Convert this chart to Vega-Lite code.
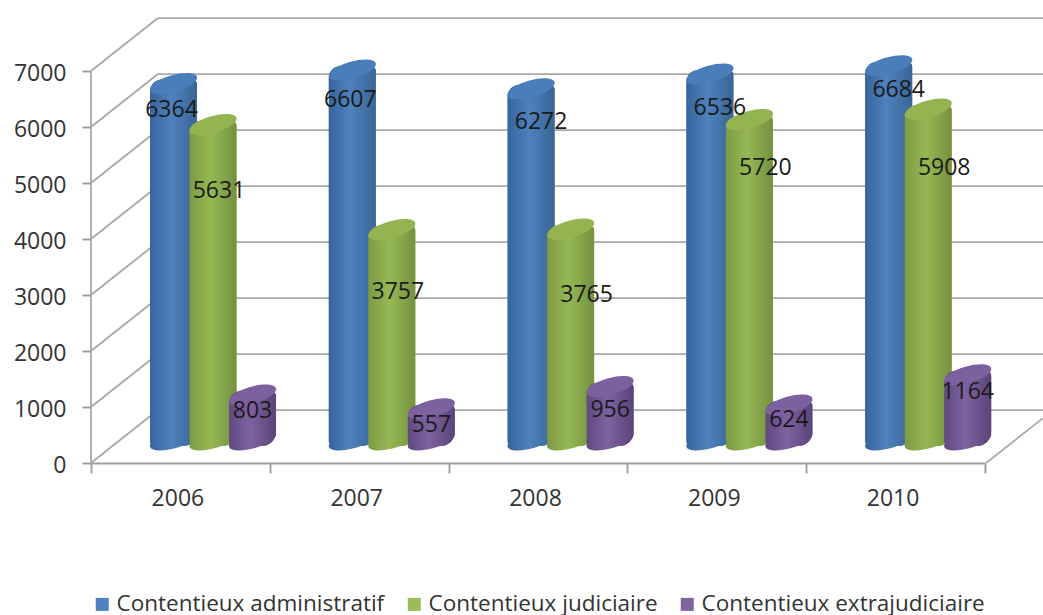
{
"$schema":"https://vega.github.io/schema/vega-lite/v6.json",
"width":952,"height":463,
"autosize":{"type":"none"},
"padding":{"left":91,"top":0,"right":0,"bottom":152},
"background":"white",
"config":{"view":{"stroke":null},"font":"Open Sans"},
"datasets":{
"bars":[
{"year":"2006","series":"Contentieux administratif","value":6364,"labelLevel":6304},
{"year":"2006","series":"Contentieux judiciaire","value":5631,"labelLevel":4857},
{"year":"2006","series":"Contentieux extrajudiciaire","value":803,"labelLevel":929},
{"year":"2007","series":"Contentieux administratif","value":6607,"labelLevel":6482},
{"year":"2007","series":"Contentieux judiciaire","value":3757,"labelLevel":3054},
{"year":"2007","series":"Contentieux extrajudiciaire","value":557,"labelLevel":679},
{"year":"2008","series":"Contentieux administratif","value":6272,"labelLevel":6089},
{"year":"2008","series":"Contentieux judiciaire","value":3765,"labelLevel":3000},
{"year":"2008","series":"Contentieux extrajudiciaire","value":956,"labelLevel":946},
{"year":"2009","series":"Contentieux administratif","value":6536,"labelLevel":6339},
{"year":"2009","series":"Contentieux judiciaire","value":5720,"labelLevel":5268},
{"year":"2009","series":"Contentieux extrajudiciaire","value":624,"labelLevel":768},
{"year":"2010","series":"Contentieux administratif","value":6684,"labelLevel":6661},
{"year":"2010","series":"Contentieux judiciaire","value":5908,"labelLevel":5268},
{"year":"2010","series":"Contentieux extrajudiciaire","value":1164,"labelLevel":1268}
],
"frame":[
{"line":"a","depth":0,"level":0},{"line":"a","depth":0,"level":7000},
{"line":"s0","depth":0,"level":0},{"line":"s0","depth":0.374,"level":946},
{"line":"s1","depth":0,"level":1000},{"line":"s1","depth":0.374,"level":1946},
{"line":"s2","depth":0,"level":2000},{"line":"s2","depth":0.374,"level":2946},
{"line":"s3","depth":0,"level":3000},{"line":"s3","depth":0.374,"level":3946},
{"line":"s4","depth":0,"level":4000},{"line":"s4","depth":0.374,"level":4946},
{"line":"s5","depth":0,"level":5000},{"line":"s5","depth":0.374,"level":5946},
{"line":"s6","depth":0,"level":6000},{"line":"s6","depth":0.374,"level":6946},
{"line":"s7","depth":0,"level":7000},{"line":"s7","depth":0.374,"level":7946},
{"line":"b0","depth":0.374,"level":946},{"line":"b0","depth":5.318,"level":946},
{"line":"b1","depth":0.374,"level":1946},{"line":"b1","depth":5.318,"level":1946},
{"line":"b2","depth":0.374,"level":2946},{"line":"b2","depth":5.318,"level":2946},
{"line":"b3","depth":0.374,"level":3946},{"line":"b3","depth":5.318,"level":3946},
{"line":"b4","depth":0.374,"level":4946},{"line":"b4","depth":5.318,"level":4946},
{"line":"b5","depth":0.374,"level":5946},{"line":"b5","depth":5.318,"level":5946},
{"line":"b6","depth":0.374,"level":6946},{"line":"b6","depth":5.318,"level":6946},
{"line":"b7","depth":0.374,"level":7946},{"line":"b7","depth":5.318,"level":7946},
{"line":"r","depth":5,"level":0},{"line":"r","depth":5.318,"level":800}
]
},
"resolve":{"scale":{"x":"independent"},"axis":{"x":"independent"}},
"layer":[
{"data":{"name":"frame"},
 "mark":{"type":"line","stroke":"#a8a8a8","strokeWidth":1.8,"clip":false},
 "encoding":{
  "x":{"field":"depth","type":"quantitative","scale":{"domain":[0,5.318],"nice":false,"zero":false},"axis":null},
  "y":{"field":"level","type":"quantitative","scale":{"domain":[0,8268],"nice":false},
   "axis":{"title":null,"values":[0,1000,2000,3000,4000,5000,6000,7000],"format":"d","grid":false,"domain":false,"tickColor":"#a0a0a0","tickWidth":2,"tickSize":9,"labelPadding":16,"labelOffset":2,"labelFontSize":23,"labelColor":"#333333","labelFont":"Open Sans"}},
  "detail":{"field":"line"}
 }},
{"data":{"name":"bars"},
 "encoding":{
  "x":{"field":"year","type":"nominal","scale":{"range":[0,894],"paddingInner":0,"paddingOuter":0},
   "axis":{"title":null,"labelAngle":0,"tickBand":"extent","domainColor":"#a0a0a0","domainWidth":2,"tickColor":"#a0a0a0","tickWidth":2,"tickSize":10,"labelPadding":14,"labelOffset":-3,"labelFontSize":23,"labelColor":"#333333","labelFont":"Open Sans"}},
  "xOffset":{"field":"series","type":"nominal","scale":{"domain":["Contentieux administratif","Contentieux judiciaire","Contentieux extrajudiciaire"],"range":[62.75,181.25],"paddingInner":0,"paddingOuter":0}}
 },
 "layer":[
 {"mark":{"type":"bar","width":47,"yOffset":-27,"y2Offset":-17,"cornerRadiusTopLeft":12,"cornerRadiusTopRight":5,"cornerRadiusBottomRight":14,"cornerRadiusBottomLeft":5},
  "encoding":{"y":{"field":"value","type":"quantitative"},"y2":{"datum":0},
   "color":{"field":"series","type":"nominal","scale":{"domain":["Contentieux administratif","Contentieux judiciaire","Contentieux extrajudiciaire"],"range":["#4f81bd","#9bbb59","#8064a2"]},
    "legend":{"title":null,"orient":"none","legendX":0,"legendY":593,"direction":"horizontal","columns":3,"symbolType":"square","symbolSize":169,"symbolStrokeWidth":0,"labelFontSize":22.5,"labelLimit":400,"labelColor":"#333333","labelFont":"Open Sans","columnPadding":18,"labelOffset":3}}}},
 {"transform":[{"filter":"datum.series=='Contentieux administratif'"}],
  "layer":[
  {"mark":{"type":"point","filled":true,"opacity":1,"yOffset":-23,"size":2209,"shape":"M-1,0.29A1.04,0.36,-16,1,1,1,-0.29A1.04,0.36,-16,1,1,-1,0.29Z","fill":{"gradient":"linear","x1":0,"x2":1,"y1":0,"y2":0,"stops":[{"offset":0,"color":"#37649c"},{"offset":0.45,"color":"#4f81bd"},{"offset":1,"color":"#3a6595"}]}},
   "encoding":{"y":{"datum":0,"type":"quantitative"}}},
  {"mark":{"type":"bar","width":47,"yOffset":-27,"y2Offset":-17,"cornerRadiusTopLeft":12,"cornerRadiusTopRight":5,"cornerRadiusBottomRight":14,"cornerRadiusBottomLeft":5,"fill":{"gradient":"linear","x1":0,"x2":1,"y1":0,"y2":0,"stops":[{"offset":0,"color":"#37649c"},{"offset":0.45,"color":"#4f81bd"},{"offset":1,"color":"#3a6595"}]}},
   "encoding":{"y":{"field":"value","type":"quantitative"},"y2":{"datum":0}}},
  {"mark":{"type":"point","filled":true,"opacity":1,"yOffset":-23,"size":2209,"fill":"#4a7ebb","shape":"M-1,0.29A1.04,0.36,-16,1,1,1,-0.29A1.04,0.36,-16,1,1,-1,0.29Z"},
   "encoding":{"y":{"field":"value","type":"quantitative"}}}
  ]},
 {"transform":[{"filter":"datum.series=='Contentieux judiciaire'"}],
  "layer":[
  {"mark":{"type":"point","filled":true,"opacity":1,"yOffset":-23,"size":2209,"shape":"M-1,0.29A1.04,0.36,-16,1,1,1,-0.29A1.04,0.36,-16,1,1,-1,0.29Z","fill":{"gradient":"linear","x1":0,"x2":1,"y1":0,"y2":0,"stops":[{"offset":0,"color":"#7d9a44"},{"offset":0.45,"color":"#95b954"},{"offset":1,"color":"#74913f"}]}},
   "encoding":{"y":{"datum":0,"type":"quantitative"}}},
  {"mark":{"type":"bar","width":47,"yOffset":-27,"y2Offset":-17,"cornerRadiusTopLeft":12,"cornerRadiusTopRight":5,"cornerRadiusBottomRight":14,"cornerRadiusBottomLeft":5,"fill":{"gradient":"linear","x1":0,"x2":1,"y1":0,"y2":0,"stops":[{"offset":0,"color":"#7d9a44"},{"offset":0.45,"color":"#95b954"},{"offset":1,"color":"#74913f"}]}},
   "encoding":{"y":{"field":"value","type":"quantitative"},"y2":{"datum":0}}},
  {"mark":{"type":"point","filled":true,"opacity":1,"yOffset":-23,"size":2209,"fill":"#93b451","shape":"M-1,0.29A1.04,0.36,-16,1,1,1,-0.29A1.04,0.36,-16,1,1,-1,0.29Z"},
   "encoding":{"y":{"field":"value","type":"quantitative"}}}
  ]},
 {"transform":[{"filter":"datum.series=='Contentieux extrajudiciaire'"}],
  "layer":[
  {"mark":{"type":"point","filled":true,"opacity":1,"yOffset":-23,"size":2209,"shape":"M-1,0.29A1.04,0.36,-16,1,1,1,-0.29A1.04,0.36,-16,1,1,-1,0.29Z","fill":{"gradient":"linear","x1":0,"x2":1,"y1":0,"y2":0,"stops":[{"offset":0,"color":"#5f4a80"},{"offset":0.45,"color":"#7f62a1"},{"offset":1,"color":"#5a4478"}]}},
   "encoding":{"y":{"datum":0,"type":"quantitative"}}},
  {"mark":{"type":"bar","width":47,"yOffset":-27,"y2Offset":-17,"cornerRadiusTopLeft":12,"cornerRadiusTopRight":5,"cornerRadiusBottomRight":14,"cornerRadiusBottomLeft":5,"fill":{"gradient":"linear","x1":0,"x2":1,"y1":0,"y2":0,"stops":[{"offset":0,"color":"#5f4a80"},{"offset":0.45,"color":"#7f62a1"},{"offset":1,"color":"#5a4478"}]}},
   "encoding":{"y":{"field":"value","type":"quantitative"},"y2":{"datum":0}}},
  {"mark":{"type":"point","filled":true,"opacity":1,"yOffset":-23,"size":2209,"fill":"#7d60a0","shape":"M-1,0.29A1.04,0.36,-16,1,1,1,-0.29A1.04,0.36,-16,1,1,-1,0.29Z"},
   "encoding":{"y":{"field":"value","type":"quantitative"}}}
  ]},
 {"mark":{"type":"text","fontSize":23,"font":"Open Sans","color":"#1a1a1a","dx":{"expr":"datum.series=='Contentieux extrajudiciaire'?0:(datum.series=='Contentieux administratif'?(datum.year>='2008'?10:-2):(datum.year>='2008'?16:6))"}},
  "encoding":{"y":{"field":"labelLevel","type":"quantitative"},"text":{"field":"value","type":"nominal"}}}
 ]}
]
}
